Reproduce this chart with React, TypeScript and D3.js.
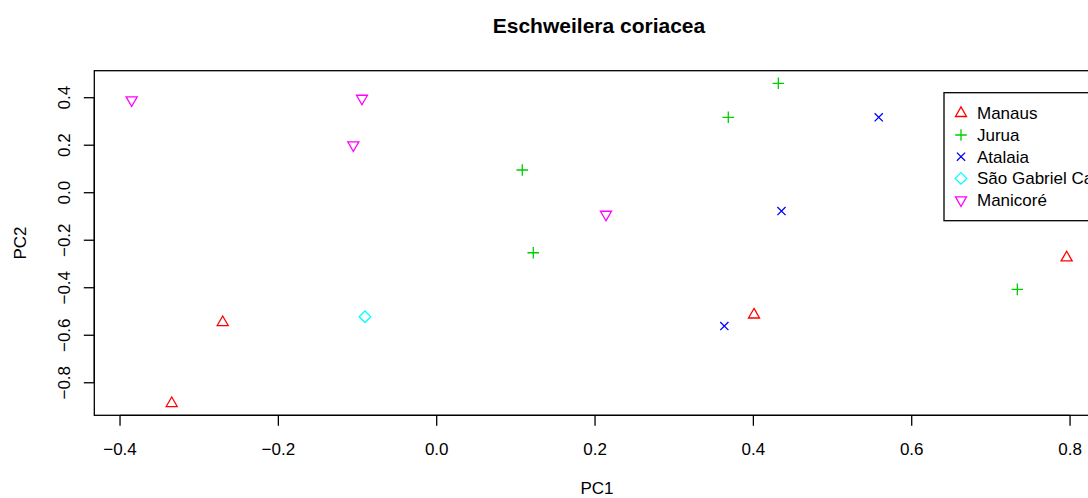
import * as d3 from 'd3';

const groups = ['Manaus', 'Jurua', 'Atalaia', 'São Gabriel Cachoeira', 'Manicoré'];
const colors = ['#FF0000', '#00CD00', '#0000FF', '#00FFFF', '#FF00FF'];
const shapes = ['tri', 'plus', 'cross', 'diamond', 'down'];

const manausPC1 = [-0.2703, -0.3347, 0.4008, 0.7957];
const manausPC2 = [-0.5457, -0.8867, -0.514, -0.2732];
const juruaPC1 = [0.4315, 0.3683, 0.1081, 0.122, 0.7334];
const juruaPC2 = [0.4606, 0.3175, 0.0956, -0.2526, -0.4067];
const atalaiaPC1 = [0.5583, 0.4355, 0.3633];
const atalaiaPC2 = [0.3175, -0.0771, -0.5613];
const gabrielPC1 = [-0.0906];
const gabrielPC2 = [-0.5221];
const manicorePC1 = [-0.3853, -0.0944, -0.1053, 0.2138];
const manicorePC2 = [0.3899, 0.397, 0.2004, -0.0914];

const series = [
  [manausPC1, manausPC2],
  [juruaPC1, juruaPC2],
  [atalaiaPC1, atalaiaPC2],
  [gabrielPC1, gabrielPC2],
  [manicorePC1, manicorePC2],
];

const xTicks = [-0.4, -0.2, 0.0, 0.2, 0.4, 0.6, 0.8];
const yTicks = [-0.8, -0.6, -0.4, -0.2, 0.0, 0.2, 0.4];

const W = 1088, H = 498;
const box = { left: 94.3, right: 1103.7, top: 70.7, bottom: 415.3 };
const font = '"Liberation Sans", Arial, sans-serif';
const R = 4.1;

// R pch glyphs, centred on (0,0)
function glyph(shape: string) {
  const tc0 = 1.5551 * R, tc1 = 1.3468 * R, tc2 = 0.7776 * R;
  const s2 = Math.SQRT2 * R;
  switch (shape) {
    case 'tri': return `M0,${-tc0}L${tc1},${tc2}L${-tc1},${tc2}Z`;
    case 'down': return `M0,${tc0}L${tc1},${-tc2}L${-tc1},${-tc2}Z`;
    case 'plus': return `M${-s2},0H${s2}M0,${-s2}V${s2}`;
    case 'cross': return `M${-R},${-R}L${R},${R}M${-R},${R}L${R},${-R}`;
    default: return `M0,${-s2}L${s2},0L0,${s2}L${-s2},0Z`;
  }
}

export default function App() {
  const x = d3.scaleLinear().domain([-0.4325, 0.8425]).range([box.left, box.right]);
  const y = d3.scaleLinear().domain([-0.937, 0.5137]).range([box.bottom, box.top]);
  const fmt = d3.format('.1f');
  const cy = (box.top + box.bottom) / 2;
  const ink = '#000';
  const lw = 1.3;

  const legX = 944, legTop = 92.7, legBottom = 220.7, legRow0 = 113.3, legStep = 21.7;

  return (
    <svg width={W} height={H} style={{ position: 'absolute', left: 0, top: 0, background: '#fff' }}
      fontFamily={font}>
      <rect x={0} y={0} width={W} height={H} fill="#fff" />
      <text x={599} y={33} textAnchor="middle" fontSize={21} fontWeight="bold" fill={ink}>
        Eschweilera coriacea
      </text>

      {/* points */}
      {series.map(([px, py], gi) => (
        <g key={gi} stroke={colors[gi]} strokeWidth={lw} fill="none">
          {px.map((v, i) => (
            <path key={i} d={glyph(shapes[gi])} transform={`translate(${x(v)},${y(py[i])})`} />
          ))}
        </g>
      ))}

      {/* box */}
      <rect x={box.left} y={box.top} width={box.right - box.left} height={box.bottom - box.top}
        fill="none" stroke={ink} strokeWidth={lw} />

      {/* x axis */}
      <g stroke={ink} strokeWidth={lw}>
        <line x1={x(xTicks[0])} x2={x(xTicks[xTicks.length - 1])} y1={box.bottom} y2={box.bottom} />
        {xTicks.map(t => (
          <line key={t} x1={x(t)} x2={x(t)} y1={box.bottom} y2={box.bottom + 10.5} />
        ))}
      </g>
      {xTicks.map(t => (
        <text key={t} x={x(t)} y={455} textAnchor="middle" fontSize={17} fill={ink}>{fmt(t)}</text>
      ))}

      {/* y axis */}
      <g stroke={ink} strokeWidth={lw}>
        <line x1={box.left} x2={box.left} y1={y(yTicks[0])} y2={y(yTicks[yTicks.length - 1])} />
        {yTicks.map(t => (
          <line key={t} x1={box.left - 10.5} x2={box.left} y1={y(t)} y2={y(t)} />
        ))}
      </g>
      {yTicks.map(t => (
        <text key={t} transform={`translate(70,${y(t)}) rotate(-90)`} textAnchor="middle" fontSize={17} fill={ink}>
          {fmt(t)}
        </text>
      ))}

      <text x={597} y={494} textAnchor="middle" fontSize={17} fill={ink}>PC1</text>
      <text transform={`translate(26,${cy}) rotate(-90)`} textAnchor="middle" fontSize={17} fill={ink}>PC2</text>

      {/* legend */}
      <rect x={legX} y={legTop} width={220} height={legBottom - legTop} fill="#fff" stroke={ink} strokeWidth={lw} />
      {groups.map((g, i) => (
        <g key={g} transform={`translate(0,${legRow0 + i * legStep})`}>
          <path d={glyph(shapes[i])} transform="translate(961,0)" stroke={colors[i]} strokeWidth={lw} fill="none" />
          <text x={977} y={6} fontSize={17} fill={ink}>{g}</text>
        </g>
      ))}
    </svg>
  );
}
